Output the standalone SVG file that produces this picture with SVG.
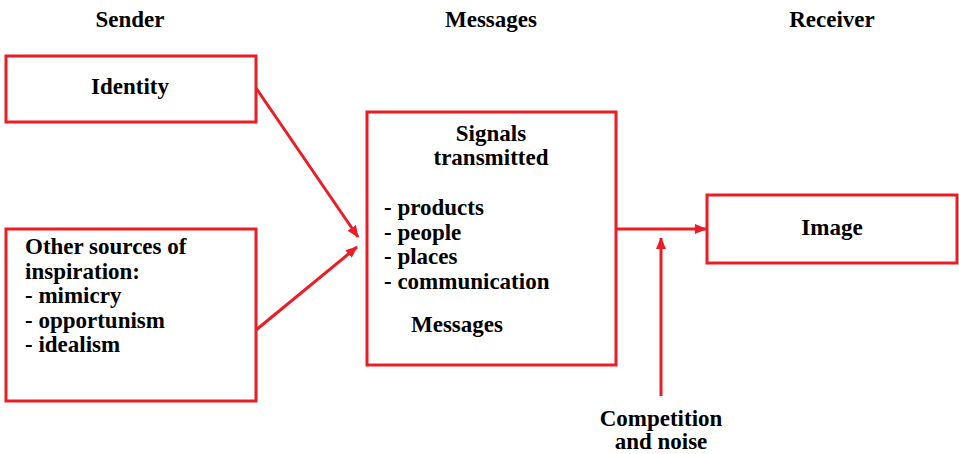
<svg xmlns="http://www.w3.org/2000/svg" width="959" height="454" viewBox="0 0 959 454">
<style>
.box{fill:#fff;stroke:#ED1C24;stroke-width:3}
.ln{fill:none;stroke:#ED1C24;stroke-width:3}
.t{font-family:'Liberation Serif','Times New Roman',serif;font-weight:bold;font-size:23px;fill:#000}
.c{text-anchor:middle}
</style>
<defs>
<marker id="ah" markerWidth="12" markerHeight="10" refX="11" refY="5" orient="auto" markerUnits="userSpaceOnUse">
<path d="M0,0 L12,5 L0,10 Z" fill="#ED1C24"/>
</marker>
</defs>
<rect width="959" height="454" fill="#fff"/>
<g id="headers">
<text class="t c" x="130" y="27">Sender</text>
<text class="t c" x="491" y="27">Messages</text>
<text class="t c" x="832" y="27">Receiver</text>
</g>
<g id="connectors">
<line class="ln" x1="256" y1="88" x2="358" y2="237" marker-end="url(#ah)"/>
<line class="ln" x1="256" y1="330" x2="357" y2="247" marker-end="url(#ah)"/>
<line class="ln" x1="616" y1="229" x2="706" y2="229" marker-end="url(#ah)"/>
<line class="ln" x1="661" y1="396" x2="661" y2="238" marker-end="url(#ah)"/>
</g>
<g id="identity">
<rect class="box" x="6" y="56" width="250" height="66"/>
<text class="t c" x="130" y="94">Identity</text>
</g>
<g id="other-sources">
<rect class="box" x="6" y="229" width="250" height="172"/>
<text class="t" x="25" y="254">Other sources of</text>
<text class="t" x="25" y="279">inspiration:</text>
<text class="t" x="25" y="303">- mimicry</text>
<text class="t" x="25" y="328">- opportunism</text>
<text class="t" x="25" y="352">- idealism</text>
</g>
<g id="messages">
<rect class="box" x="367" y="112" width="249" height="253"/>
<text class="t c" x="491" y="141">Signals</text>
<text class="t c" x="491" y="165">transmitted</text>
<text class="t" x="384" y="215">- products</text>
<text class="t" x="384" y="240">- people</text>
<text class="t" x="384" y="264">- places</text>
<text class="t" x="384" y="289">- communication</text>
<text class="t" x="411" y="332">Messages</text>
</g>
<g id="image">
<rect class="box" x="707" y="195" width="250" height="68"/>
<text class="t c" x="832" y="235">Image</text>
</g>
<g id="competition">
<text class="t c" x="661" y="426">Competition</text>
<text class="t c" x="661" y="449">and noise</text>
</g>
</svg>
